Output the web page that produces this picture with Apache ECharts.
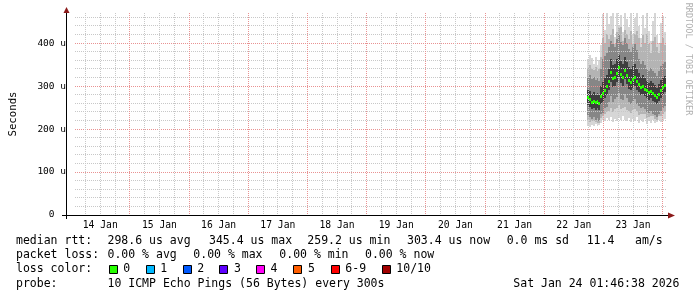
<!DOCTYPE html>
<html><head><meta charset="utf-8">
<script src="https://cdn.jsdelivr.net/npm/echarts@6/dist/echarts.min.js"></script>
<style>html,body{margin:0;padding:0;background:#fff;}#c{width:697px;height:297px;}</style>
</head><body><div id="c"></div>
<script>
// x values: hours since 14 Jan 2026 00:00
const xMinHour = 1.7772;      // 14 Jan 01:46:38
const xMaxHour = 241.7772;    // 24 Jan 01:46:38
const dayLabels = ['14 Jan','15 Jan','16 Jan','17 Jan','18 Jan','19 Jan','20 Jan','21 Jan','22 Jan','23 Jan'];
const yTickValues = [0, 100, 200, 300, 400];

// sample times (hours) and smoke values (microseconds)
const sampleHours = [209.6,210.4,211.2,212.0,212.8,213.6,214.4,215.2,216.0,216.8,217.6,218.4,219.2,220.0,220.8,221.6,222.4,223.2,224.0,224.8,225.6,226.4,227.2,228.0,228.8,229.6,230.4,231.2,232.0,232.8,233.6,234.4,235.2,236.0,236.8,237.6,238.4,239.2,240.0,240.8];
const median  = [274,270,264,266,262,265,261,276,284,292,300,312,332,318,322,330,345,328,320,338,326,314,310,316,322,312,304,298,300,294,290,286,289,284,280,274,282,290,298,303];
const pingMin = [208,205,210,207,212,206,209,215,222,218,225,220,228,217,224,219,226,221,230,222,218,225,216,223,219,228,214,220,217,224,212,218,215,221,213,217,222,216,219,224];
const pingLo3 = [220,216,218,219,216,215,214,226,230,234,240,242,250,240,246,248,256,246,248,252,245,242,238,244,246,242,232,234,236,234,226,228,230,230,224,222,230,230,234,240];
const pingLo2 = [232,228,224,229,220,226,218,236,238,248,252,262,276,262,270,274,284,270,268,282,272,262,258,266,270,258,254,248,252,246,240,238,242,236,232,228,236,242,248,254];
const pingLo1 = [256,252,246,250,245,248,244,258,264,272,280,292,310,298,300,310,322,306,300,316,304,294,290,296,300,292,286,280,282,276,272,268,272,266,262,258,266,272,280,286];
const pingHi1 = [292,288,282,286,280,284,280,300,310,318,326,340,362,350,352,362,372,358,352,368,356,344,340,346,352,340,330,322,326,318,312,308,312,306,302,296,304,314,320,324];
const pingHi2 = [322,326,316,320,314,318,312,340,362,370,378,392,405,398,390,410,420,402,396,412,400,386,380,392,398,384,362,352,358,348,340,336,342,336,330,324,334,346,352,356];
const pingHi3 = [342,348,340,338,344,334,340,368,412,400,420,410,418,432,398,425,436,438,405,430,420,410,428,398,420,428,412,390,418,400,422,398,378,405,415,390,378,400,412,395];
const pingMax = [362,372,366,352,368,348,360,395,468,430,470,445,462,470,415,470,440,466,425,470,455,438,470,420,458,470,440,412,465,436,470,428,405,452,470,418,400,446,462,425];

const lossLabels = ['0','1','2','3','4','5','6-9','10/10'];
const lossColors = ['#26ff00','#00b8ff','#0059ff','#5e00ff','#ff00f6','#ff5e00','#ff0000','#a10000'];

const STEP = 0.8;
const C_OUTER = '#d6d6d6', C_LIGHT = '#b4b4b4', C_MID = '#868686', C_DARK = '#3e3e3e';
const C_MINOR = '#c8c8c8', C_MAJOR = '#e99292';
const FONT = '"DejaVu Sans Mono", monospace';

const smokeData = sampleHours.map((h, i) => [h, pingMin[i], pingLo3[i], pingLo2[i], pingLo1[i], median[i], pingHi1[i], pingHi2[i], pingHi3[i], pingMax[i]]);
const medianData = sampleHours.map((h, i) => [h, median[i]]);

const gridHours = [];
for (let h = 6; h <= 240; h += 6) gridHours.push(h);
const gridValues = [];
for (let v = 20; v <= 460; v += 20) gridValues.push(v);
const dayNoons = dayLabels.map((d, i) => 12 + 24 * i);

function renderSmoke(params, api) {
  const t = api.value(0);
  const x0 = Math.round(api.coord([t - STEP / 2, 0])[0]);
  const x1 = Math.round(api.coord([t + STEP / 2, 0])[0]);
  const ys = [1,2,3,4,6,7,8,9].map(i => Math.round(api.coord([t, api.value(i)])[1]));
  const bands = [[0,1,C_OUTER],[1,2,C_LIGHT],[2,3,C_MID],[3,4,C_DARK],[4,5,C_MID],[5,6,C_LIGHT],[6,7,C_OUTER]];
  return {
    type: 'group',
    children: bands.map(b => ({
      type: 'rect',
      shape: { x: x0, y: ys[b[1]], width: x1 - x0, height: ys[b[0]] - ys[b[1]] },
      style: { fill: b[2], stroke: null }
    }))
  };
}
function renderMedian(params, api) {
  const t = api.value(0);
  const x0 = Math.round(api.coord([t - STEP / 2, 0])[0]);
  const x1 = Math.round(api.coord([t + STEP / 2, 0])[0]);
  const y = Math.round(api.coord([t, api.value(1)])[1]);
  return { type: 'rect', shape: { x: x0, y: y - 1, width: x1 - x0, height: 3 }, style: { fill: lossColors[0], stroke: null } };
}
// dotted grid drawn as 1px filled dots, positions from the axis scales
function renderGrid(params, api) {
  const cs = params.coordSys;
  const kids = [];
  gridValues.forEach(v => {
    const y = Math.floor(api.coord([xMinHour, v])[1]);
    const col = v % 100 === 0 ? C_MAJOR : C_MINOR;
    for (let x = cs.x; x < cs.x + cs.width; x += 2)
      kids.push({ type: 'rect', shape: { x: x, y: y, width: 1, height: 1 }, style: { fill: col, stroke: null } });
  });
  gridHours.forEach(h => {
    const x = Math.floor(api.coord([h, 0])[0]);
    const col = h % 24 === 0 ? C_MAJOR : C_MINOR;
    for (let y = cs.y; y < cs.y + cs.height; y += 2)
      kids.push({ type: 'rect', shape: { x: x, y: y, width: 1, height: 1 }, style: { fill: col, stroke: null } });
  });
  return { type: 'group', children: kids };
}

const g = [];
function txt(s, x, y, size) {
  g.push({ type: 'text', x: x, y: y, silent: true,
    style: { text: s, font: size + 'px ' + FONT, fill: '#000', textAlign: 'left', textVerticalAlign: 'middle' } });
}
const LF = 11.5;
const rows = [241.3, 255.3, 269.3, 283.7];
txt('median rtt:', 16, rows[0], LF);
txt('298.6 us avg', 107.5, rows[0], LF);
txt('345.4 us max', 209, rows[0], LF);
txt('259.2 us min', 307.3, rows[0], LF);
txt('303.4 us now', 407, rows[0], LF);
txt('0.0 ms sd', 506.7, rows[0], LF);
txt('11.4', 586.7, rows[0], LF);
txt('am/s', 635, rows[0], LF);
txt('packet loss:', 16, rows[1], LF);
txt('0.00 % avg', 107.5, rows[1], LF);
txt('0.00 % max', 193.3, rows[1], LF);
txt('0.00 % min', 279.3, rows[1], LF);
txt('0.00 % now', 365, rows[1], LF);
txt('loss color:', 16, rows[2], LF);
const boxX = [108.7, 145.7, 182.7, 219.3, 256, 293.3, 330.7, 381.7];
lossLabels.forEach((l, i) => {
  g.push({ type: 'rect', silent: true, shape: { x: Math.round(boxX[i]) + 0.5, y: 265.5, width: 8, height: 8 },
    style: { fill: lossColors[i], stroke: '#000', lineWidth: 1 } });
  txt(l, boxX[i] + 14.6, rows[2], LF);
});
txt('probe:', 16, rows[3], LF);
txt('10 ICMP Echo Pings (56 Bytes) every 300s', 107.5, rows[3], LF);
txt('Sat Jan 24 01:46:38 2026', 513.3, rows[3], LF);
g.push({ type: 'text', x: 688, y: 59, rotation: -Math.PI / 2, silent: true,
  style: { text: 'RRDTOOL / TOBI OETIKER', font: '8.5px ' + FONT, fill: '#b0b0b0', textAlign: 'center', textVerticalAlign: 'middle' } });
g.push({ type: 'line', silent: true, shape: { x1: 62, y1: 215.5, x2: 670, y2: 215.5 }, style: { stroke: '#000', lineWidth: 1 } });
g.push({ type: 'line', silent: true, shape: { x1: 66.5, y1: 12, x2: 66.5, y2: 219 }, style: { stroke: '#000', lineWidth: 1 } });
g.push({ type: 'polygon', silent: true, shape: { points: [[668, 212.5], [675, 215.5], [668, 218.5]] }, style: { fill: '#8b1a1a' } });
g.push({ type: 'polygon', silent: true, shape: { points: [[63.5, 13], [66.5, 7], [69.5, 13]] }, style: { fill: '#8b1a1a' } });

const chart = echarts.init(document.getElementById('c'), null, { renderer: 'canvas' });
chart.setOption({
  animation: false,
  backgroundColor: '#fff',
  grid: { left: 67, top: 13, right: 30, bottom: 82, containLabel: false },
  xAxis: {
    type: 'value', min: xMinHour, max: xMaxHour,
    axisLine: { show: false }, axisTick: { show: false }, splitLine: { show: false },
    axisLabel: {
      customValues: dayNoons, margin: 5, color: '#000', fontFamily: FONT, fontSize: 9.7,
      formatter: v => dayLabels[Math.round((v - 12) / 24)]
    }
  },
  yAxis: {
    type: 'value', min: 0, max: 470,
    name: 'Seconds', nameLocation: 'middle', nameRotate: 90, nameGap: 56,
    nameTextStyle: { color: '#000', fontFamily: FONT, fontSize: 10.7 },
    axisLine: { show: false }, axisTick: { show: false }, splitLine: { show: false },
    axisLabel: {
      customValues: yTickValues, margin: 9, color: '#000', fontFamily: FONT, fontSize: 9.5,
      formatter: v => v === 0 ? '0  ' : v + ' u'
    }
  },
  series: [
    { type: 'custom', renderItem: renderSmoke, data: smokeData, z: 2, silent: true,
      encode: { x: 0, y: [1,2,3,4,5,6,7,8,9] } },
    { type: 'custom', renderItem: renderGrid, data: [[xMinHour, 0]], z: 3, silent: true },
    { type: 'custom', renderItem: renderMedian, data: medianData, z: 4, silent: true }
  ],
  graphic: { elements: g }
});
</script></body></html>
